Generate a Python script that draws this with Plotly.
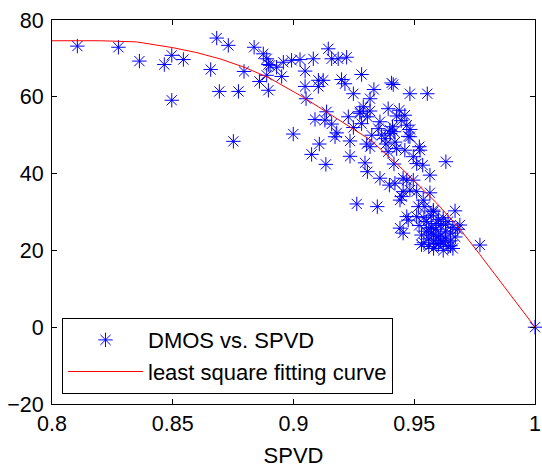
import plotly.graph_objects as go

# scatter data: DMOS vs. SPVD
spvd = [0.8105, 0.8275, 0.8362, 0.8465, 0.8496, 0.8496, 0.8544, 0.8657, 0.8682, 0.8693,
        0.8730, 0.8751, 0.8772, 0.8795, 0.8837, 0.8859, 0.8875, 0.8889, 0.8889, 0.8896,
        0.8896, 0.8903,
        0.8930, 0.8958, 0.8951, 0.8992, 0.9027, 0.9048, 0.9048, 0.9052, 0.9082, 0.9103,
        0.9103, 0.9123, 0.9144, 0.9158, 0.9185, 0.9220, 0.9199, 0.9213, 0.9248, 0.9282,
        0.9333, 0.9317, 0.9289, 0.9275, 0.9406, 0.9413, 0.9482, 0.9554, 0.9089, 0.9130,
        0.9137, 0.9158, 0.9179, 0.9172, 0.9227, 0.9248, 0.9234, 0.9234, 0.9306, 0.9317,
        0.9324, 0.9303, 0.9296, 0.9306, 0.8999, 0.9107, 0.9075, 0.9134, 0.9358, 0.9351,
        0.9365, 0.9392, 0.9410, 0.9416, 0.9399, 0.9438, 0.9461, 0.9469, 0.9475, 0.9461,
        0.9379, 0.9383, 0.9392, 0.9427, 0.9416, 0.9358, 0.9397, 0.9420, 0.9454, 0.9469,
        0.9482, 0.9454, 0.9448, 0.9441, 0.9482, 0.9521, 0.9524, 0.9496, 0.9510, 0.9535,
        0.9565, 0.9631, 0.9496, 0.9510, 0.9565, 0.9537, 0.9544, 0.9517, 0.9262, 0.9347,
        0.9579, 0.9469, 0.9510, 0.9669, 0.9689, 0.9441, 0.9454,
        0.9275, 0.9282, 0.9317, 0.9420, 0.9427, 0.9483, 0.9400, 0.9446,
        0.952, 0.953, 0.954, 0.955, 0.955, 0.956, 0.956, 0.957, 0.957, 0.958,
        0.958, 0.959, 0.959, 0.960, 0.960, 0.961, 0.961, 0.962, 0.962, 0.963,
        0.963, 0.964, 0.964, 0.965, 0.965, 0.966, 0.966, 0.967, 0.968, 0.954,
        0.957, 0.960, 0.962, 0.958, 0.961, 0.963, 0.956, 0.959, 0.965, 0.953,
        0.9475, 0.9579, 0.9772, 1.0]
dmos = [73.2, 72.9, 69.3, 68.4, 70.8, 59.1, 69.7, 67.1, 75.3, 61.4,
        73.4, 48.4, 61.4, 66.6, 72.9, 64.0, 71.2, 69.9, 65.6, 61.7,
        68.4, 68.2,
        67.7, 69.0, 65.3, 69.5, 69.7, 66.7, 62.7, 59.5, 69.9, 64.3,
        62.7, 64.3, 72.5, 69.9, 69.9, 70.3, 64.5, 63.4, 60.8, 65.8,
        61.9, 59.5, 57.4, 56.1, 63.6, 63.2, 60.8, 60.8, 54.1, 53.9,
        56.1, 52.9, 50.6, 49.6, 54.8, 52.0, 48.5, 44.5, 54.8, 56.3,
        50.0, 47.7, 42.8, 40.5, 50.3, 47.7, 45.0, 42.4, 53.5, 51.7,
        50.0, 56.9, 52.2, 50.9, 51.3, 56.5, 55.2, 52.6, 49.7, 46.1,
        49.1, 47.7, 45.7, 46.5, 42.5, 38.8, 37.0, 37.5, 38.8, 38.3,
        35.7, 35.3, 34.0, 33.1, 49.6, 47.0, 46.1, 44.4, 42.6, 42.2,
        39.6, 43.1, 38.3, 35.3, 35.0, 33.1, 31.4, 31.4, 32.1, 31.4,
        30.5, 28.8, 28.8, 30.3, 26.6, 25.8, 24.5,
        55.7, 53.0, 47.0, 48.2, 55.0, 51.5, 50.4, 53.8,
        26.5, 24.0, 22.0, 27.5, 25.0, 23.0, 21.0, 26.0, 24.5, 22.5,
        20.5, 27.0, 25.5, 23.5, 21.5, 26.5, 24.0, 22.0, 20.0, 25.0,
        23.0, 21.0, 27.5, 24.5, 22.5, 26.0, 20.5, 23.5, 25.5, 28.5,
        29.0, 28.0, 28.5, 24.0, 22.5, 26.8, 25.8, 21.8, 21.2, 21.5,
        27.9, 30.1, 21.4, 0.0]

# least square fitting curve
fit_x = [0.80, 0.82, 0.835, 0.85, 0.86, 0.87, 0.88, 0.89, 0.904, 0.918,
         0.932, 0.9455, 0.9593, 0.9689, 0.9772, 1.0]
fit_y = [74.6, 74.6, 74.3, 72.8, 71.5, 69.8, 67.6, 64.9, 59.9, 54.3,
         48.7, 40.9, 32.3, 25.6, 18.9, 0.0]

x_ticks = [0.8, 0.85, 0.9, 0.95, 1.0]
x_tick_labels = ["0.8", "0.85", "0.9", "0.95", "1"]
y_ticks = [-20, 0, 20, 40, 60, 80]

FONT = "Liberation Sans, Arial, Helvetica, sans-serif"

fig = go.Figure()
fig.add_trace(go.Scatter(
    x=spvd, y=dmos, mode="markers", name="DMOS vs. SPVD",
    legendgroup="a", cliponaxis=False,
    marker=dict(symbol="asterisk-open", size=12, color="#0000FF",
                line=dict(color="#0000FF", width=1)),
))
fig.add_trace(go.Scatter(
    x=fit_x, y=fit_y, mode="lines", name="least square fitting curve",
    legendgroup="b",
    line=dict(color="#FF0000", width=1),
))

axis_common = dict(
    showline=True, linecolor="black", linewidth=1, mirror="ticks",
    ticks="inside", ticklen=5, tickcolor="black", showgrid=False,
    zeroline=False, ticklabeloverflow="allow",
    tickfont=dict(family=FONT, size=21.5, color="black"),
)

fig.update_layout(
    width=542, height=468,
    margin=dict(l=52, r=7, t=20, b=64),
    paper_bgcolor="white", plot_bgcolor="white",
    font=dict(family=FONT, size=22, color="black"),
    xaxis=dict(range=[0.8, 1.0], tickvals=x_ticks, ticktext=x_tick_labels,
               automargin=False,
               title=dict(text="SPVD", font=dict(family=FONT, size=22)),
               **axis_common),
    yaxis=dict(range=[-20, 80], tickvals=y_ticks, ticklabelstandoff=3,
               automargin=False, **axis_common),
    legend=dict(x=0.0207, y=0.2237, xanchor="left", yanchor="top",
                bgcolor="white", bordercolor="black", borderwidth=1,
                font=dict(family=FONT, size=22, color="black"),
                itemwidth=75, tracegroupgap=0, traceorder="grouped"),
    showlegend=True,
)

fig.write_html("out.html", config={"displayModeBar": False},
               post_script="document.body.style.margin='0';document.body.style.overflow='hidden';")
